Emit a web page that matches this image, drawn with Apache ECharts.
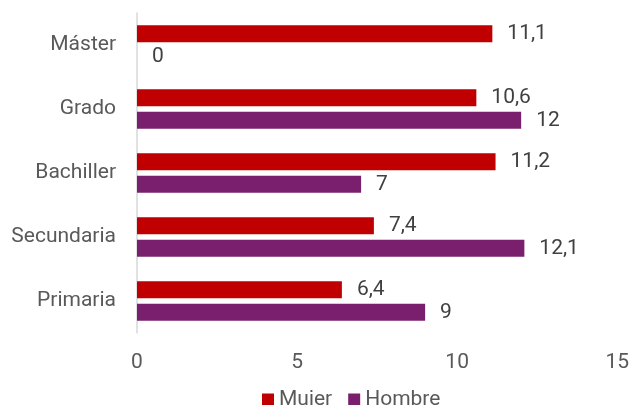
<!DOCTYPE html>
<html><head><meta charset="utf-8">
<script src="https://cdn.jsdelivr.net/npm/echarts@6/dist/echarts.min.js"></script>
<style>html,body{margin:0;padding:0;background:#fff}#c{width:632px;height:405px}</style>
</head><body><div id="c"></div>
<script>
const categories = ['Primaria', 'Secundaria', 'Bachiller', 'Grado', 'Máster'];
const mujer = [6.4, 7.4, 11.2, 10.6, 11.1];
const hombre = [9, 12.1, 7, 12, 0];
const xTicks = [0, 5, 10, 15];

const fmt = p => String(p.value).replace('.', ',');
const FS = 21;
const chart = echarts.init(document.getElementById('c'));
chart.setOption({
  animation: false,
  textStyle: { fontFamily: 'Roboto' },
  grid: { left: 137, right: 14, top: 13, bottom: 72 },
  legend: {
    data: ['Mujer', 'Hombre'], top: 384, left: 257,
    itemWidth: 12, itemHeight: 12, itemGap: 16, icon: 'rect',
    textStyle: { fontSize: FS, color: '#595959', fontFamily: 'Roboto' }
  },
  xAxis: {
    type: 'value', min: xTicks[0], max: xTicks[xTicks.length-1], interval: 5,
    splitLine: { show: false }, axisLine: { show: false }, axisTick: { show: false },
    axisLabel: { fontSize: FS, color: '#595959', margin: 19, fontFamily: 'Roboto' }
  },
  yAxis: {
    type: 'category', data: categories,
    axisLine: { show: true, lineStyle: { color: '#D9D9D9', width: 1.5 } },
    axisTick: { show: false },
    axisLabel: { fontSize: FS, color: '#595959', margin: 21, fontFamily: 'Roboto' }
  },
  series: [
    { name: 'Mujer', type: 'bar', data: mujer, barWidth: 17, barGap: '33%',
      itemStyle: { color: '#C00000' },
      label: { show: true, position: 'right', distance: 15, fontSize: FS, color: '#404040', formatter: fmt, fontFamily: 'Roboto' } },
    { name: 'Hombre', type: 'bar', data: hombre, barWidth: 17, barGap: '33%',
      itemStyle: { color: '#7A1F6E' },
      label: { show: true, position: 'right', distance: 15, fontSize: FS, color: '#404040', formatter: fmt, fontFamily: 'Roboto' } }
  ]
});
</script></body></html>
